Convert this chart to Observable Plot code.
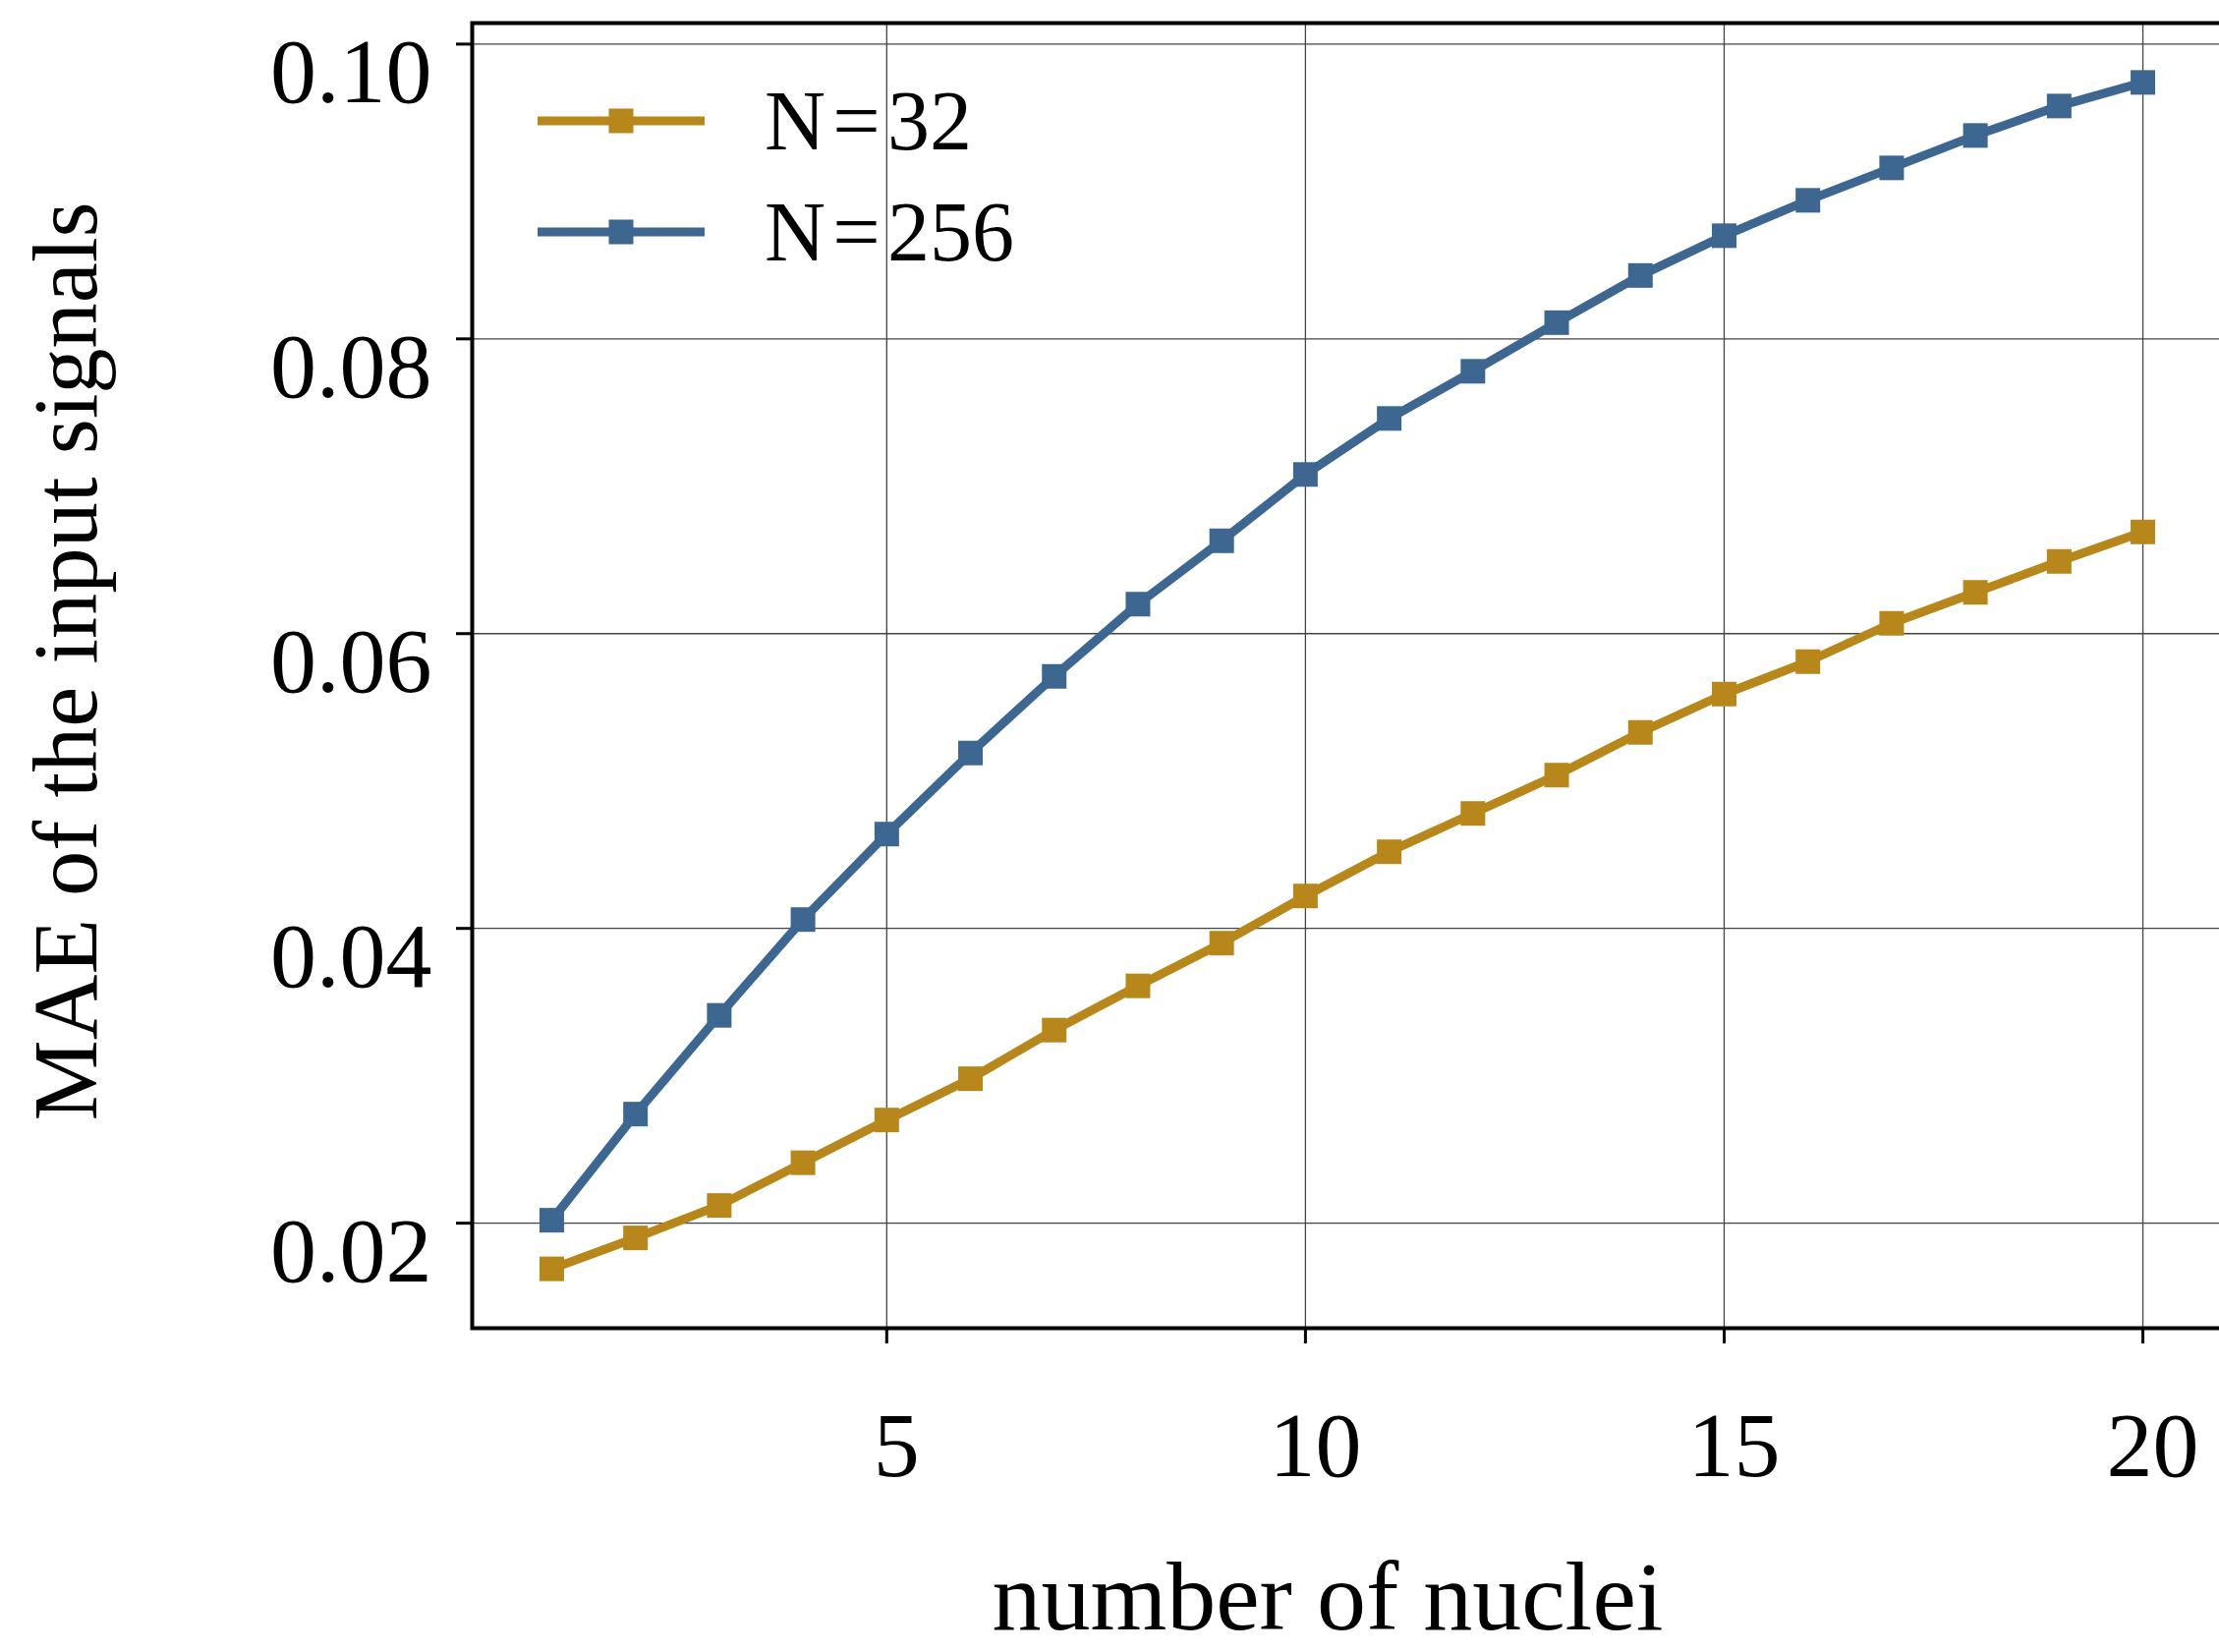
<!DOCTYPE html>
<html><head><meta charset="utf-8">
<script src="https://cdn.jsdelivr.net/npm/d3@7"></script>
<script src="https://cdn.jsdelivr.net/npm/@observablehq/plot@0.6"></script>
<style>
html,body{margin:0;padding:0;background:#fff;overflow:hidden;}
#chart{position:relative;width:2258px;height:1681px;overflow:hidden;}
#chart svg{overflow:hidden;}
</style></head><body><div id="chart"></div>
<script>
// ---- data ----
const nuclei = [1,2,3,4,5,6,7,8,9,10,11,12,13,14,15,16,17,18,19,20];
const mae32  = [0.0169,0.0190,0.0212,0.0241,0.0270,0.0298,0.0331,0.0361,0.0390,0.0422,
                0.0452,0.0478,0.0504,0.0533,0.0559,0.0581,0.0607,0.0628,0.0649,0.0669];
const mae256 = [0.0202,0.0274,0.0341,0.0406,0.0464,0.0519,0.0571,0.0620,0.0663,0.0708,
                0.0746,0.0778,0.0811,0.0843,0.0870,0.0894,0.0916,0.0938,0.0958,0.0974];
const seriesNames = ["N=32", "N=256"];
const seriesColors = ["#b8871c", "#3d6690"];
const xTicks = [5, 10, 15, 20];
const yTicks = [0.02, 0.04, 0.06, 0.08, 0.10];
const xLabel = "number of nuclei";
const yLabel = "MAE of the input signals";

// ---- table ----
const seriesValues = [mae32, mae256];
const rows = [];
seriesNames.forEach((s, i) => nuclei.forEach((n, j) => rows.push({series: s, n, mae: seriesValues[i][j]})));

const W = 2258, H = 1681;
const FONT = "Liberation Serif, Times New Roman, serif";
const [ymin, ymax] = d3.extent(rows, d => d.mae);
const ypad = (ymax - ymin) * 0.05;
const [xmin, xmax] = d3.extent(nuclei);
const xpad = (xmax - xmin) * 0.05;

const LINE_W = 9, MARK = 25;
const color = {domain: seriesNames, range: seriesColors};

const chart = Plot.plot({
  width: W, height: H,
  marginLeft: 480, marginTop: 23, marginBottom: 330, marginRight: -3,
  style: {fontFamily: FONT, background: "#fff", color: "#000"},
  x: {domain: [xmin - xpad, xmax + xpad]},
  y: {domain: [ymin - ypad, ymax + ypad]},
  color,
  marks: [
    Plot.gridX(xTicks, {stroke: "#444", strokeOpacity: 1, strokeWidth: 1.3}),
    Plot.gridY(yTicks, {stroke: "#444", strokeOpacity: 1, strokeWidth: 1.3}),
    Plot.line(rows, {x: "n", y: "mae", z: "series", stroke: "series", strokeWidth: LINE_W, strokeLinejoin: "miter"}),
    Plot.dot(rows, {x: "n", y: "mae", fill: "series", symbol: "square", r: MARK / Math.sqrt(Math.PI), stroke: null}),
    Plot.frame({stroke: "#000", strokeWidth: 4}),
    // tick marks
    Plot.axisX(xTicks, {tickSize: 16, text: null, strokeWidth: 3, label: null}),
    Plot.axisY(yTicks, {tickSize: 16, text: null, strokeWidth: 3, label: null}),
    // tick labels
    Plot.axisX(xTicks, {tickSize: 0, tickPadding: 84, fontSize: 94, dx: 10, label: null}),
    Plot.axisY(yTicks, {tickSize: 0, tickPadding: 41, fontSize: 94, dy: 29, tickFormat: d3.format(".2f"), label: null})
  ]
});
document.getElementById("chart").appendChild(chart);

// ---- axis titles & legend (real SVG text) ----
const svg = d3.select(chart);
svg.append("text")
  .attr("x", 1351).attr("y", 1658)
  .attr("text-anchor", "middle")
  .attr("font-family", FONT).attr("font-size", 100).attr("fill", "#000")
  .text(xLabel);
svg.append("text")
  .attr("transform", "translate(98,673) rotate(-90)")
  .attr("text-anchor", "middle")
  .attr("font-family", FONT).attr("font-size", 92.5).attr("fill", "#000")
  .text(yLabel);

const lg = svg.append("g");
seriesNames.forEach((s, i) => {
  const cy = 123 + i * 113;
  lg.append("line").attr("x1", 547).attr("x2", 717).attr("y1", cy).attr("y2", cy)
    .attr("stroke", seriesColors[i]).attr("stroke-width", LINE_W);
  lg.append("rect").attr("x", 632 - MARK / 2).attr("y", cy - MARK / 2).attr("width", MARK).attr("height", MARK)
    .attr("fill", seriesColors[i]);
  lg.append("text").attr("x", 778).attr("y", cy + 29)
    .attr("text-anchor", "start")
    .attr("font-family", FONT).attr("font-size", 86).attr("fill", "#000")
    .text(s.replace("=", "\u200a=\u200a"));
});
</script>
</body></html>
